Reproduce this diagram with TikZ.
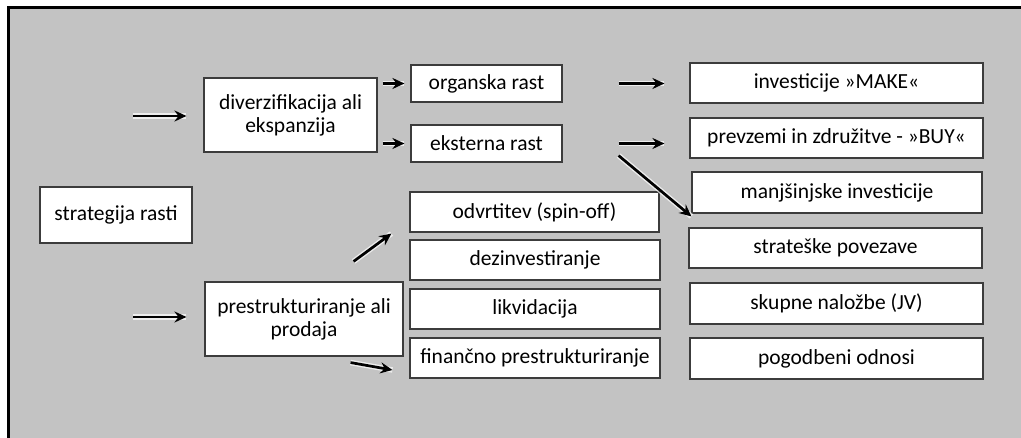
\documentclass[tikz,border=0pt]{standalone}
\usepackage{fontspec}
\setmainfont{Carlito}
\usepackage{tikz}
\usetikzlibrary{arrows.meta}
\definecolor{bggray}{RGB}{195,195,195}
\definecolor{boxline}{RGB}{60,60,60}
\tikzset{
  box/.style = {rectangle, draw=boxline, fill=white, line width=1.1pt,
    inner sep=0pt, align=center, font=\fontsize{21.5}{23}\selectfont},
  shortbox/.style = {box, minimum width=151pt, minimum height=37pt},% organska/eksterna
  midbox/.style = {box, minimum width=250pt, minimum height=40pt},% restructuring list
  widebox/.style = {box, minimum width=293pt, minimum height=40pt},% right column
  arr/.style = {-{Stealth[length=12pt,width=11pt,inset=4pt]}, line width=2.7pt,
    preaction={-, draw=white, line width=5.5pt, opacity=0.7}}
}

\begin{document}
\begin{tikzpicture}[x=1pt,y=-1pt]
\useasboundingbox (0,0) rectangle (1021,438);
\fill[white] (0,0) rectangle (1021,438);
\fill[bggray] (8,8) rectangle (1021,438);
\draw[line width=3pt] (8,438) -- (8,8) -- (1021,8);

% left part
\node [box, minimum width=152pt, minimum height=56pt] (rasti) at (116,215) {strategija rasti};
\node [box, minimum width=173pt, minimum height=74pt] (diverz) at (290.5,115) {diverzifikacija ali\\ekspanzija};
\node [box, minimum width=198pt, minimum height=74pt] (prestr) at (304,319) {prestrukturiranje ali\\prodaja};

% middle column
\node [shortbox] (organ) at (486.5,83.5) {organska rast};
\node [shortbox] (ekst) at (486.5,143.5) {eksterna rast};
\node [midbox, minimum width=249pt] (spinoff) at (534.5,212) {odvrtitev (spin-off)};
\node [midbox] (dezinv) at (535,260) {dezinvestiranje};
\node [midbox] (likv) at (535,309) {likvidacija};
\node [midbox] (finpre) at (535,358) {finančno prestrukturiranje};

% right column
\node [widebox] (make) at (836.5,83) {investicije »MAKE«};
\node [widebox] (buy) at (836.5,138) {prevzemi in združitve - »BUY«};
\node [widebox, minimum width=290pt, minimum height=41pt] (manjs) at (837,192.5) {manjšinjske investicije};
\node [widebox] (strat) at (835.5,248) {strateške povezave};
\node [widebox, minimum height=41pt] (jv) at (836.5,303.5) {skupne naložbe (JV)};
\node [widebox, minimum height=41pt] (pogod) at (836.5,358.5) {pogodbeni odnosi};

% arrows
\coordinate (inA) at (133,116);
\coordinate (inB) at (133,317);
\draw [arr, shorten >=17pt] (inA) -- (diverz.west |- inA);
\draw [arr, shorten >=18pt] (inB) -- (prestr.west |- inB);
\draw [arr, shorten <=5pt, shorten >=6pt] (diverz.east |- organ.west) -- (organ.west);
\draw [arr, shorten <=5pt, shorten >=6pt] (diverz.east |- ekst.west) -- (ekst.west);
\draw [arr, shorten <=56pt, shorten >=25pt] (organ.east) -- (make.west |- organ.east);
\draw [arr, shorten <=56pt, shorten >=25pt] (ekst.east) -- (buy.west |- ekst.east);
\draw [arr] ([shift={(56,-7)}]ekst.south east) -- ([shift={(3,-11)}]strat.north west);
\draw [arr] ([shift={(-50,-20)}]prestr.north east) -- ([shift={(-18,1)}]spinoff.south west);
\draw [arr] ([shift={(-53,6)}]prestr.south east) -- ([shift={(-17,12)}]finpre.west);
\end{tikzpicture}
\end{document}
